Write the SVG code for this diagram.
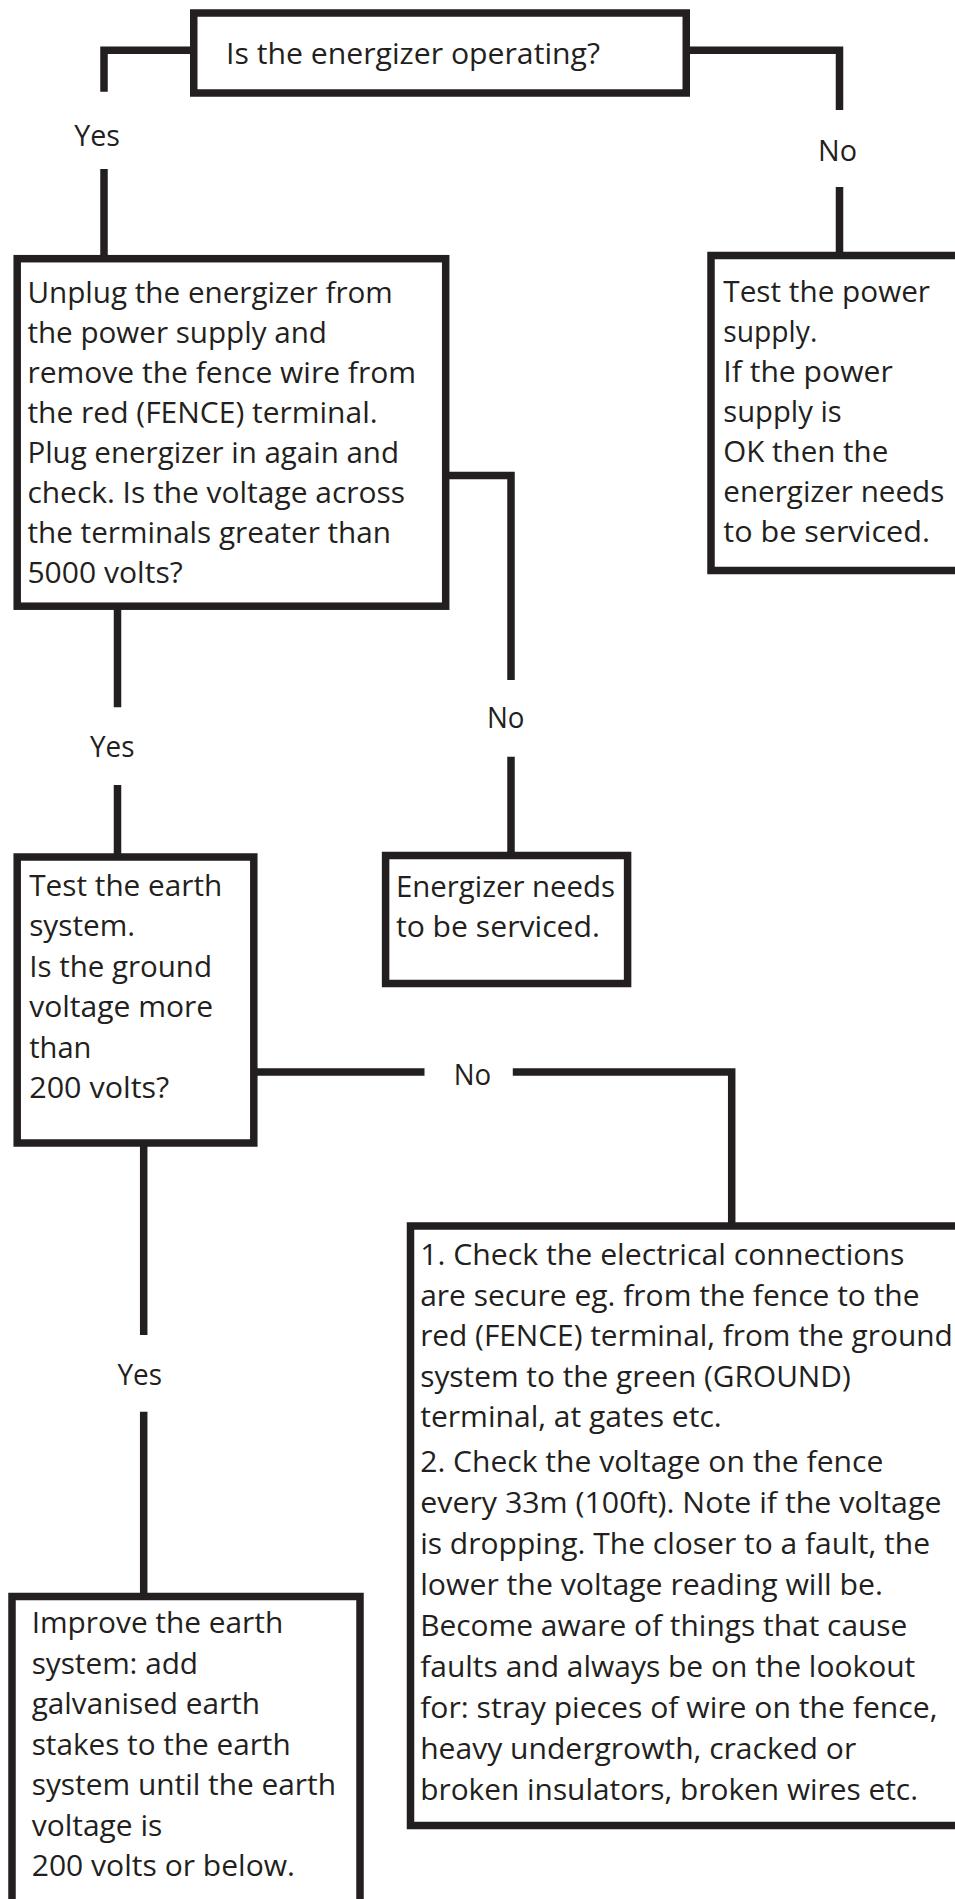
<svg xmlns="http://www.w3.org/2000/svg" width="955" height="1899" viewBox="0 0 955 1899">
<style>
.box{fill:#fff;stroke:#231f20;stroke-width:7.5}
.ln{fill:none;stroke:#231f20;stroke-width:7.5;stroke-linejoin:miter;stroke-linecap:butt}
text{font-family:"Open Sans","Liberation Sans",sans-serif;font-size:30px;fill:#231f20}
</style>
<rect width="955" height="1899" fill="#fff"/>
<g id="connectors">
<path class="ln" d="M194 50.3H104V91.7M104 169V259"/>
<path class="ln" d="M686 50.3H839.5V110M839.5 187V256"/>
<path class="ln" d="M445 475.5H511V680M511 756.7V856"/>
<path class="ln" d="M117.5 606V707.3M117.5 785V857"/>
<path class="ln" d="M253 1072H424.5M512.8 1072H731.7V1227"/>
<path class="ln" d="M143.7 1143V1335M143.7 1411.7V1597"/>
<text x="74.3" y="146" textLength="45.7" lengthAdjust="spacingAndGlyphs">Yes</text>
<text x="818" y="160.5" textLength="39" lengthAdjust="spacingAndGlyphs">No</text>
<text x="487" y="728" textLength="37.5" lengthAdjust="spacingAndGlyphs">No</text>
<text x="90" y="757" textLength="44.5" lengthAdjust="spacingAndGlyphs">Yes</text>
<text x="453.7" y="1085" textLength="37.5" lengthAdjust="spacingAndGlyphs">No</text>
<text x="117.5" y="1385" textLength="44.5" lengthAdjust="spacingAndGlyphs">Yes</text>
</g>
<g id="n1">
<rect class="box" x="193.75" y="13" width="492.5" height="80"/>
<text x="226" y="64" textLength="374" lengthAdjust="spacingAndGlyphs">Is the energizer operating?</text>
</g>
<g id="n2">
<rect class="box" x="17.2" y="258.7" width="428.5" height="347.5"/>
<text x="27.4" y="303" textLength="365.4" lengthAdjust="spacingAndGlyphs">Unplug the energizer from</text>
<text x="27.4" y="343" textLength="299.6" lengthAdjust="spacingAndGlyphs">the power supply and</text>
<text x="27.4" y="383" textLength="388.6" lengthAdjust="spacingAndGlyphs">remove the fence wire from</text>
<text x="27.4" y="423" textLength="350.2" lengthAdjust="spacingAndGlyphs">the red (FENCE) terminal.</text>
<text x="27.4" y="463" textLength="371.6" lengthAdjust="spacingAndGlyphs">Plug energizer in again and</text>
<text x="27.4" y="503" textLength="377.6" lengthAdjust="spacingAndGlyphs">check. Is the voltage across</text>
<text x="27.4" y="543" textLength="363.6" lengthAdjust="spacingAndGlyphs">the terminals greater than</text>
<text x="27.4" y="583" textLength="155.3" lengthAdjust="spacingAndGlyphs">5000 volts?</text>
</g>
<g id="n3">
<rect class="box" x="711" y="255.5" width="260" height="315"/>
<text x="723.3" y="301.5" textLength="206.7" lengthAdjust="spacingAndGlyphs">Test the power</text>
<text x="723.3" y="341.5" textLength="94" lengthAdjust="spacingAndGlyphs">supply.</text>
<text x="723.3" y="381.5" textLength="169.4" lengthAdjust="spacingAndGlyphs">If the power</text>
<text x="723.3" y="421.5" textLength="118.4" lengthAdjust="spacingAndGlyphs">supply is</text>
<text x="723.3" y="461.5" textLength="165" lengthAdjust="spacingAndGlyphs">OK then the</text>
<text x="723.3" y="501.5" textLength="221" lengthAdjust="spacingAndGlyphs">energizer needs</text>
<text x="723.3" y="541.5" textLength="206.7" lengthAdjust="spacingAndGlyphs">to be serviced.</text>
</g>
<g id="n4">
<rect class="box" x="17.2" y="857" width="236.6" height="286"/>
<text x="29.2" y="896" textLength="193.1" lengthAdjust="spacingAndGlyphs">Test the earth</text>
<text x="29.2" y="936.4" textLength="106" lengthAdjust="spacingAndGlyphs">system.</text>
<text x="29.2" y="976.8" textLength="182.8" lengthAdjust="spacingAndGlyphs">Is the ground</text>
<text x="29.2" y="1017.2" textLength="184" lengthAdjust="spacingAndGlyphs">voltage more</text>
<text x="29.2" y="1057.6" textLength="62.2" lengthAdjust="spacingAndGlyphs">than</text>
<text x="29.2" y="1098" textLength="140.1" lengthAdjust="spacingAndGlyphs">200 volts?</text>
</g>
<g id="n5">
<rect class="box" x="385.6" y="855.5" width="242" height="128"/>
<text x="395.9" y="897" textLength="219.2" lengthAdjust="spacingAndGlyphs">Energizer needs</text>
<text x="395.9" y="937" textLength="204" lengthAdjust="spacingAndGlyphs">to be serviced.</text>
</g>
<g id="n6">
<rect class="box" x="410.5" y="1226" width="560" height="599.5"/>
<text x="420.2" y="1265" textLength="484.2" lengthAdjust="spacingAndGlyphs">1. Check the electrical connections</text>
<text x="420.2" y="1305.5" textLength="499.4" lengthAdjust="spacingAndGlyphs">are secure eg. from the fence to the</text>
<text x="420.2" y="1346" textLength="532.5" lengthAdjust="spacingAndGlyphs">red (FENCE) terminal, from the ground</text>
<text x="420.2" y="1386.5" textLength="430.6" lengthAdjust="spacingAndGlyphs">system to the green (GROUND)</text>
<text x="420.2" y="1427" textLength="301.5" lengthAdjust="spacingAndGlyphs">terminal, at gates etc.</text>
<text x="420.2" y="1472" textLength="463.1" lengthAdjust="spacingAndGlyphs">2. Check the voltage on the fence</text>
<text x="420.2" y="1513" textLength="521.3" lengthAdjust="spacingAndGlyphs">every 33m (100ft). Note if the voltage</text>
<text x="420.2" y="1554" textLength="509.8" lengthAdjust="spacingAndGlyphs">is dropping. The closer to a fault, the</text>
<text x="420.2" y="1595" textLength="462.8" lengthAdjust="spacingAndGlyphs">lower the voltage reading will be.</text>
<text x="420.2" y="1636" textLength="487.2" lengthAdjust="spacingAndGlyphs">Become aware of things that cause</text>
<text x="420.2" y="1677" textLength="495.1" lengthAdjust="spacingAndGlyphs">faults and always be on the lookout</text>
<text x="420.2" y="1718" textLength="517.3" lengthAdjust="spacingAndGlyphs">for: stray pieces of wire on the fence,</text>
<text x="420.2" y="1759" textLength="436" lengthAdjust="spacingAndGlyphs">heavy undergrowth, cracked or</text>
<text x="420.2" y="1800" textLength="497.8" lengthAdjust="spacingAndGlyphs">broken insulators, broken wires etc.</text>
</g>
<g id="n7">
<rect class="box" x="12" y="1596.5" width="348" height="330"/>
<text x="31.7" y="1633" textLength="251.5" lengthAdjust="spacingAndGlyphs">Improve the earth</text>
<text x="31.7" y="1673.5" textLength="166.3" lengthAdjust="spacingAndGlyphs">system: add</text>
<text x="31.7" y="1714" textLength="228.3" lengthAdjust="spacingAndGlyphs">galvanised earth</text>
<text x="31.7" y="1754.5" textLength="259" lengthAdjust="spacingAndGlyphs">stakes to the earth</text>
<text x="31.7" y="1795" textLength="304.3" lengthAdjust="spacingAndGlyphs">system until the earth</text>
<text x="31.7" y="1835.5" textLength="130.6" lengthAdjust="spacingAndGlyphs">voltage is</text>
<text x="31.7" y="1876" textLength="263.3" lengthAdjust="spacingAndGlyphs">200 volts or below.</text>
</g>
</svg>
